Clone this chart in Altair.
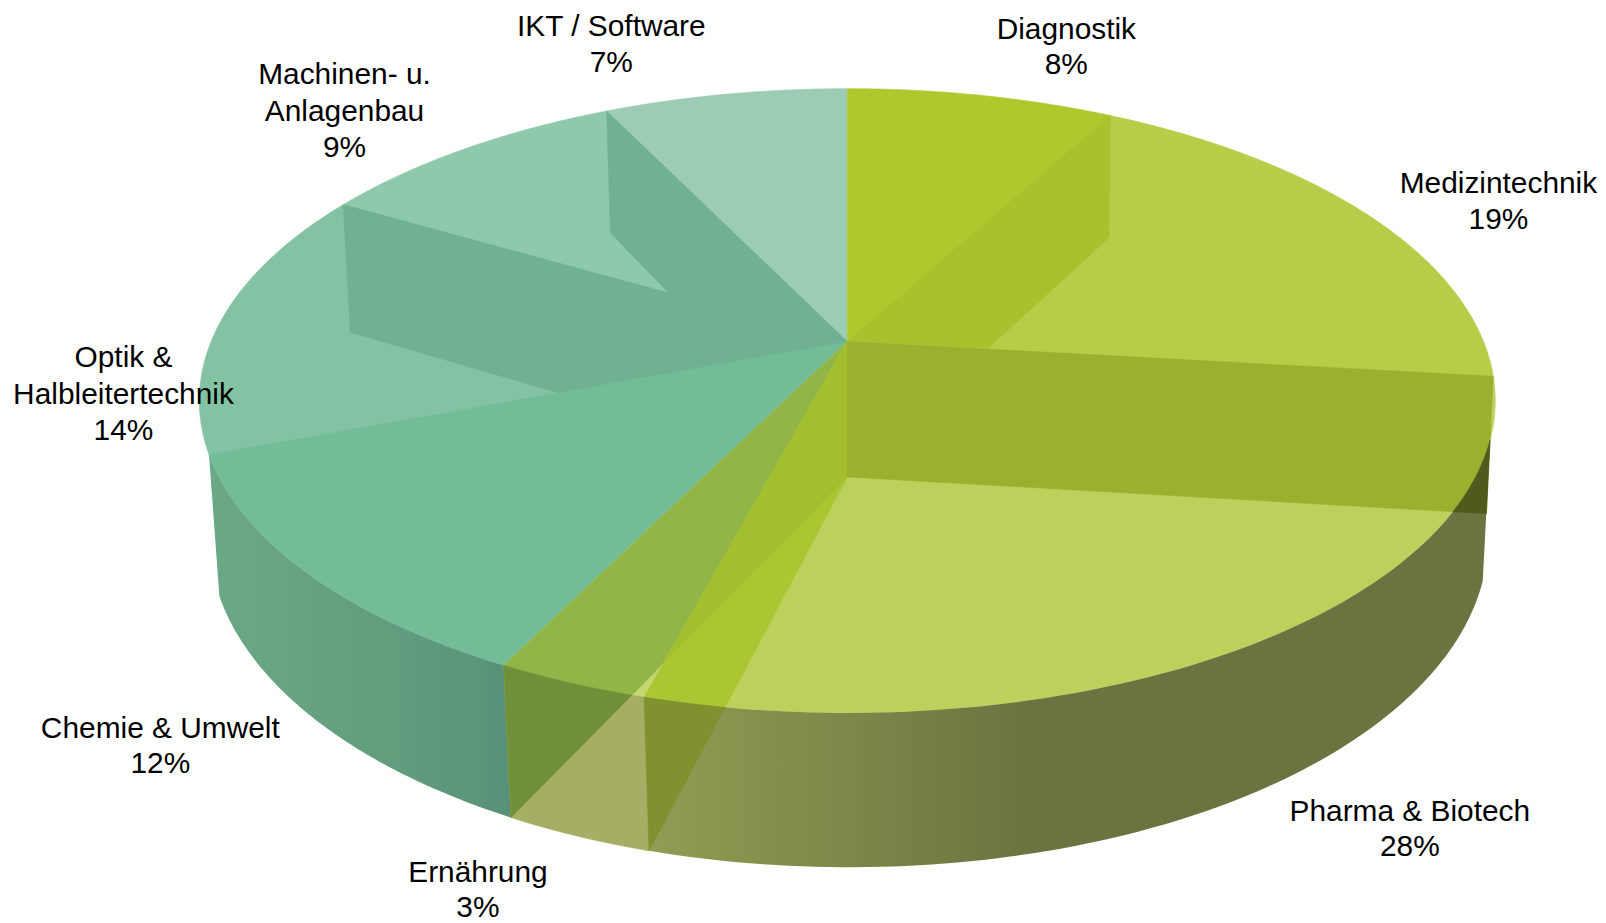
import math
import altair as alt

# ---- data ----
SECTORS = ["Diagnostik", "Medizintechnik", "Pharma & Biotech", "Ernährung",
           "Chemie & Umwelt", "Optik & Halbleitertechnik", "Machinen- u. Anlagenbau", "IKT / Software"]
SHARES = [8.0, 18.8, 27.4, 3.2, 11.9, 14.0, 9.4, 7.3]
LABEL_LINES = [["Diagnostik", "8%"], ["Medizintechnik", "19%"], ["Pharma & Biotech", "28%"],
               ["Ernährung", "3%"], ["Chemie & Umwelt", "12%"], ["Optik &", "Halbleitertechnik", "14%"],
               ["Machinen- u.", "Anlagenbau", "9%"], ["IKT / Software", "7%"]]

# ---- layout (image pixels) ----
LABEL_X = [1071, 1505, 1416, 480, 161, 124, 346, 614]
LABEL_Y = [28, 183, 814, 875, 730, 358, 73, 25]
LINE_STEP = [35, 36, 35, 35, 35, 36.5, 37, 36]
FONT = "Liberation Sans"
FONT_SIZE = 30
MARGIN = 8
X0 = 851
TOP = dict(a=639, far=87, mid=341, near=714, dx=0)
BOT = dict(a=631, far=208, mid=477, near=869, dx=1.5)

# ---- colours ----
TOP_COL = ["#AEC82E", "#B5CD47", "#BCD15C", "#C5D66E", "#72BC98", "#83C3A3", "#8FC9AB", "#9CCDB4"]
WALL_LEFT = "#6FB190"
WALL_DM = "#A9C12C"
WALL_MP = "#9CAF2E"
WALL_CE = "#92B548"
WALL_EP = "#AAC733"
WALL_BOTH = "#A3BF2E"
DARK_MP = "#4F5A1C"
DARK_EP = "#81912F"
DARK_CE = "#6F9038"
BAND_ERN = "#A5AE64"
BAND_CHEM = [(0, "#6BA886"), (0.55, "#629E7E"), (0.9, "#5C957A"), (1, "#578E78")]
BAND_PH = [(0, "#929C53"), (0.2, "#818B4A"), (0.45, "#6B7440"), (1, "#6B7440")]


def projector(p):
    c = (2 * p["mid"] - p["far"] - p["near"]) / (p["far"] - p["near"])
    b = p["far"] * (1 + c) - p["mid"]

    def f(deg):
        t = math.radians(deg)
        s, k = math.cos(t), math.sin(t)
        w = 1 + c * s
        return (X0 + p["dx"] + p["a"] * k / w, (p["mid"] + b * s) / w)
    return f


top = projector(TOP)
bot = projector(BOT)
O = (X0, TOP["mid"])
Ob = (X0, BOT["mid"])

cum = [0.0]
for v in SHARES:
    cum.append(cum[-1] + v)
ang = [c * 3.6 for c in cum]


def arc(f, a, b, n=90):
    return [f(a + (b - a) * i / n) for i in range(n + 1)]


def side(a, b, p):
    return (b[0] - a[0]) * (p[1] - a[1]) - (b[1] - a[1]) * (p[0] - a[0])


def rim_cross(a, b, lo, hi):
    sl = side(a, b, top(lo))
    for _ in range(50):
        m = (lo + hi) / 2
        if side(a, b, top(m)) * sl > 0:
            lo = m
        else:
            hi = m
    return (lo + hi) / 2


def meet(a, b, c, d):
    x1, y1, x2, y2 = a[0], a[1], b[0], b[1]
    x3, y3, x4, y4 = c[0], c[1], d[0], d[1]
    den = (x1 - x2) * (y3 - y4) - (y1 - y2) * (x3 - x4)
    u = ((x1 - x3) * (y3 - y4) - (y1 - y3) * (x3 - x4)) / den
    return (x1 + u * (x2 - x1), y1 + u * (y2 - y1))


def wedge(i):
    return [O] + arc(top, ang[i], ang[i + 1])


def wall(th):
    return [O, top(th), bot(th), Ob]


def band(a, b):
    return arc(top, a, b) + arc(bot, b, a)


def shape(points, fill, seam=True):
    ring = [[x - MARGIN, y - MARGIN] for x, y in points]
    ring.append(ring[0])
    feature = {"type": "Feature", "properties": {},
               "geometry": {"type": "Polygon", "coordinates": [ring]}}
    kw = {"stroke": fill, "strokeWidth": 0.6} if seam else {"strokeWidth": 0}
    return (alt.Chart(alt.Data(values=[feature])).mark_geoshape(fill=fill, **kw)
            .project(type="identity", scale=1, translate=[0, 0]))


def ramp(stops):
    return alt.Gradient(gradient="linear", x1=0, x2=1, y1=0, y2=0,
                        stops=[alt.GradientStop(offset=o, color=c) for o, c in stops])


thP, thB, thA, thD = ang[2], ang[3], ang[4], ang[5]
P, Q = top(thP), bot(thP)
B, Bq = top(thB), bot(thB)
A, Aq = top(thA), bot(thA)

layers = []
# far faces, then the inner walls behind them
for i in (7, 6, 5):
    layers.append(shape(wedge(i), TOP_COL[i]))
for th in (ang[7], ang[6]):
    layers.append(shape(wall(th), WALL_LEFT))
# near faces and the walls that show through them
layers.append(shape(wedge(0), TOP_COL[0]))
layers.append(shape(wedge(1), TOP_COL[1]))
layers.append(shape(wall(ang[1]), WALL_DM))
layers.append(shape(wedge(4), TOP_COL[4]))
layers.append(shape(wedge(3), TOP_COL[3]))
layers.append(shape(wall(thA), WALL_CE))
layers.append(shape(wedge(2), TOP_COL[2]))
layers.append(shape(wall(thB), WALL_EP))
X = meet(O, B, Ob, Aq)
layers.append(shape([O, X, Ob], WALL_BOTH))
layers.append(shape(wall(thP), WALL_MP))

# outer rim walls
thStart = rim_cross(P, Q, thP + 2, thP + 40)
layers.append(shape(band(thA, thD), ramp(BAND_CHEM), seam=False))
layers.append(shape(band(thB, thA), BAND_ERN))
layers.append(shape(band(thStart, thB), ramp(BAND_PH), seam=False))

# inner walls seen through the rim
thC = rim_cross(Q, Ob, thP + 2, thP + 40)
layers.append(shape([top(thStart), Q] + arc(top, thC, thStart), DARK_MP))
thC = rim_cross(Bq, Ob, thB - 40, thB - 0.5)
layers.append(shape([B, Bq] + arc(top, thC, thB), DARK_EP))
thC = rim_cross(Aq, Ob, thB + 0.1, thA - 0.5)
layers.append(shape([A, Aq] + arc(top, thC, thA), DARK_CE))

rows = []
for lines, x, y, step in zip(LABEL_LINES, LABEL_X, LABEL_Y, LINE_STEP):
    for n, t in enumerate(lines):
        rows.append({"t": t, "x": x - MARGIN, "y": y + n * step - MARGIN})
text = (alt.Chart(alt.Data(values=rows))
        .mark_text(font=FONT, fontSize=FONT_SIZE, color="#000000", align="center", baseline="middle")
        .encode(x=alt.X("x:Q", scale=None, axis=None), y=alt.Y("y:Q", scale=None, axis=None), text="t:N"))

chart = (alt.layer(*layers, text)
         .properties(width=1590, height=905, padding=0, background="#ffffff")
         .configure_view(strokeWidth=0))
chart.save("out.html", embed_options={"renderer": "svg", "actions": False})
